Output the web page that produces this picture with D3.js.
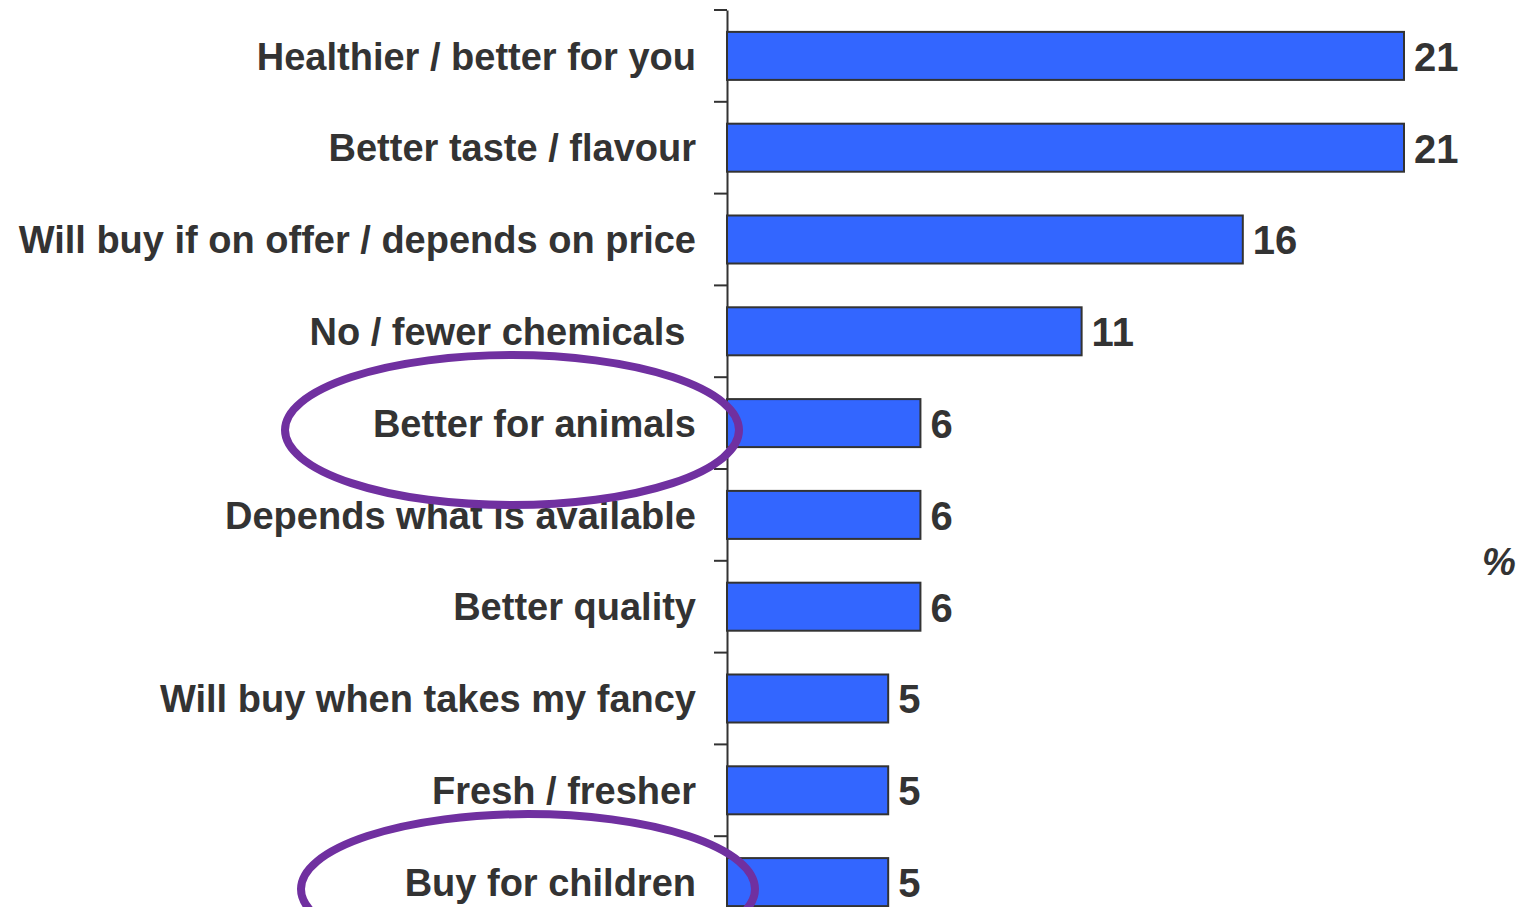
<!DOCTYPE html>
<html><head><meta charset="utf-8">
<script src="https://cdn.jsdelivr.net/npm/d3@7"></script>
<style>body{margin:0;background:#fff;overflow:hidden}svg{display:block}</style>
</head><body>
<script>
const categories = ["Healthier / better for you","Better taste / flavour","Will buy if on offer / depends on price","No / fewer chemicals ","Better for animals","Depends what is available","Better quality","Will buy when takes my fancy","Fresh / fresher","Buy for children"];
const values = [21,21,16,11,6,6,6,5,5,5];
const circled = ["Better for animals","Buy for children"];
const unitLabel = "%";

const W = 1519, H = 907;
const svg = d3.select("body").append("svg").attr("width", W).attr("height", H);

const x = d3.scaleLinear().domain([0, 21]).range([727, 1404]);
const y = d3.scaleBand().domain(categories).range([10, 928]).paddingInner(0.477).paddingOuter(0.2385);

const font = "'Liberation Sans', Arial, sans-serif";

// axis
const axis = d3.axisLeft(y).tickSize(0).tickFormat("");
const gAxis = svg.append("g").attr("transform", `translate(${x(0)},0)`).call(axis);
gAxis.select(".domain").attr("stroke", "#333").attr("stroke-width", 2);
// tick marks at band boundaries
svg.append("g").selectAll("line").data(categories).join("line")
  .attr("x1", x(0) - 13).attr("x2", x(0))
  .attr("y1", d => y(d) - y.step() * y.paddingInner() / 2)
  .attr("y2", d => y(d) - y.step() * y.paddingInner() / 2)
  .attr("stroke", "#333").attr("stroke-width", 2);

// bars
svg.append("g").selectAll("rect").data(categories).join("rect")
  .attr("x", x(0)).attr("y", d => y(d))
  .attr("width", (d, i) => x(values[i]) - x(0))
  .attr("height", y.bandwidth())
  .attr("fill", "#3366FF").attr("stroke", "#333").attr("stroke-width", 2);

// category labels
svg.append("g").selectAll("text").data(categories).join("text")
  .attr("x", 696).attr("y", d => y(d) + y.bandwidth() / 2)
  .attr("dy", "0.36em").attr("text-anchor", "end")
  .style("white-space", "pre")
  .attr("font-family", font).attr("font-weight", "bold").attr("font-size", 38)
  .attr("fill", "#333").text(d => d);

// value labels
svg.append("g").selectAll("text").data(categories).join("text")
  .attr("x", (d, i) => x(values[i]) + 10).attr("y", d => y(d) + y.bandwidth() / 2)
  .attr("dy", "0.37em")
  .attr("font-family", font).attr("font-weight", "bold").attr("font-size", 40)
  .attr("fill", "#333").text((d, i) => values[i]);

// unit label
svg.append("text").attr("x", 1499).attr("y", 575).attr("text-anchor", "middle")
  .attr("font-family", font).attr("font-weight", "bold").attr("font-style", "italic")
  .attr("font-size", 38).attr("fill", "#333").text(unitLabel);

// highlight ellipses
svg.append("g").selectAll("ellipse").data(circled).join("ellipse")
  .attr("cx", (d, i) => i === 0 ? 512 : 528)
  .attr("cy", d => y(d) + y.bandwidth() / 2 + 7)
  .attr("rx", 227).attr("ry", 75)
  .attr("fill", "none").attr("stroke", "#7030A0").attr("stroke-width", 8);
</script>
</body></html>
